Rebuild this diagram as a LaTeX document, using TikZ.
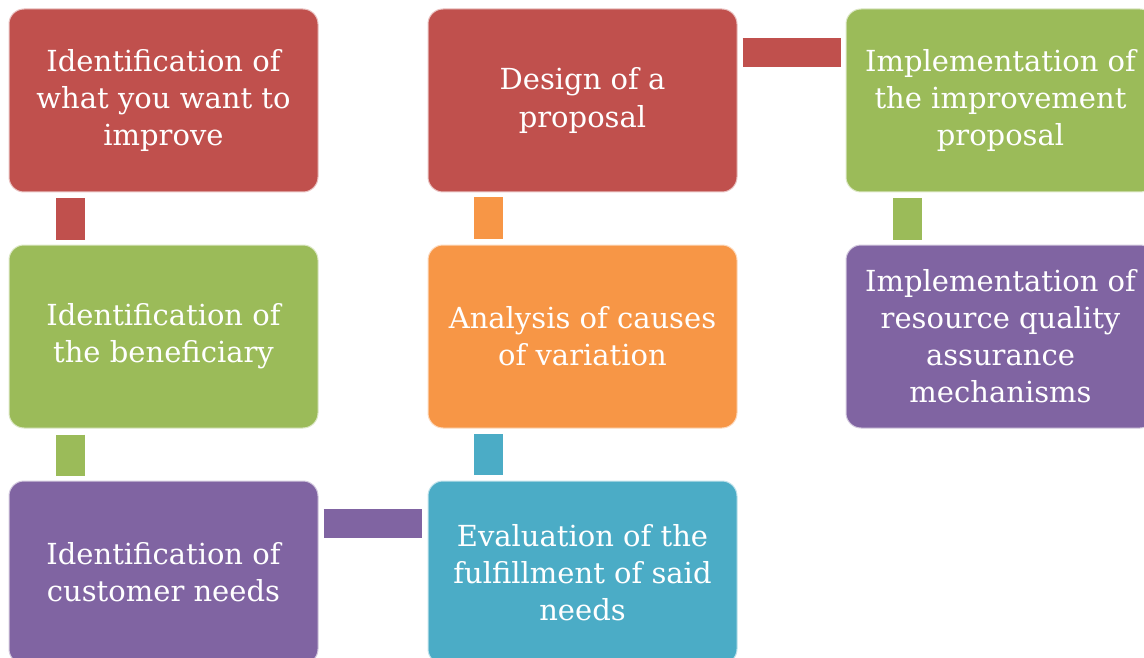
\documentclass[tikz,border=0pt]{standalone}
\usepackage{fontspec}
\setmainfont{DejaVu Serif}
\definecolor{cred}{HTML}{C0504D}
\definecolor{cgreen}{HTML}{9BBB59}
\definecolor{corange}{HTML}{F79646}
\definecolor{cblue}{HTML}{4BACC6}
\definecolor{cpurple}{HTML}{8064A2}
\tikzset{
  box/.style={rectangle, rounded corners=15pt, minimum width=309pt, minimum height=183pt,
    inner sep=0pt, align=center, text=white, line width=1pt,
    font=\fontsize{29}{37}\selectfont, fill=#1, draw=white!65!#1},
  conn/.style={line width=29pt, draw=#1},
}
\begin{document}
\begin{tikzpicture}[x=1pt,y=-1pt]
\useasboundingbox (0,0) rectangle (1144,658);
\clip (0,0) rectangle (1144,658);
\node[box=cred]    (b1) at (163.5,100.5) {Identification of\\what you want to\\improve};
\node[box=cgreen]  (b2) at (163.5,336.5) {Identification of\\the beneficiary};
\node[box=cpurple] (b3) at (163.5,572.5) {Identification of\\customer needs};
\node[box=cblue]   (b4) at (582.5,572.5) {Evaluation of the\\fulfillment of said\\needs};
\node[box=corange] (b5) at (582.5,336.5) {Analysis of causes\\of variation};
\node[box=cred]    (b6) at (582.5,100.5) {Design of a\\proposal};
\node[box=cgreen]  (b7) at (1000.5,100.5) {Implementation of\\the improvement\\proposal};
\node[box=cpurple] (b8) at (1000.5,336.5) {Implementation of\\resource quality\\assurance\\mechanisms};
% connectors
\draw[conn=cred, shorten <=6pt, shorten >=5pt] ([xshift=61.5pt]b1.south west) -- ([xshift=61.5pt]b2.north west);
\draw[conn=cgreen, shorten <=6pt, shorten >=5pt] ([xshift=61.5pt]b2.south west) -- ([xshift=61.5pt]b3.north west);
\draw[conn=cpurple, shorten <=5pt, shorten >=6pt] ([yshift=-43pt]b3.north east) -- ([yshift=-43pt]b4.north west);
\draw[conn=cblue, shorten <=6pt, shorten >=5pt] ([xshift=60.5pt]b4.north west) -- ([xshift=60.5pt]b5.south west);
\draw[conn=corange, shorten <=6pt, shorten >=5pt] ([xshift=60.5pt]b5.north west) -- ([xshift=60.5pt]b6.south west);
\draw[conn=cred, shorten <=5pt, shorten >=5pt] ([yshift=-44.5pt]b6.north east) -- ([yshift=-44.5pt]b7.north west);
\draw[conn=cgreen, shorten <=6pt, shorten >=5pt] ([xshift=61.5pt]b7.south west) -- ([xshift=61.5pt]b8.north west);
\end{tikzpicture}
\end{document}
